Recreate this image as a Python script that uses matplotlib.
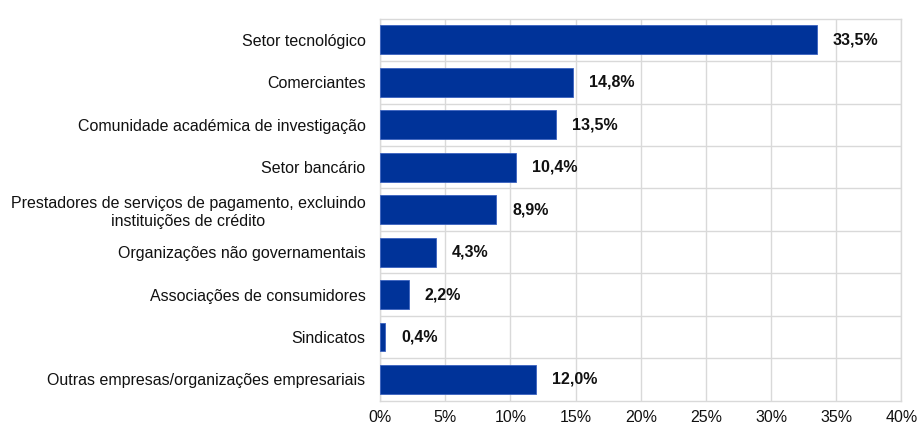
import matplotlib.pyplot as plt
from matplotlib.ticker import FuncFormatter, MultipleLocator

plt.rcParams['font.family'] = ['Liberation Sans', 'DejaVu Sans']

categories = [
    "Setor tecnológico",
    "Comerciantes",
    "Comunidade académica de investigação",
    "Setor bancário",
    "Prestadores de serviços de pagamento, excluindo\ninstituições de crédito",
    "Organizações não governamentais",
    "Associações de consumidores",
    "Sindicatos",
    "Outras empresas/organizações empresariais",
]
shares = [33.5, 14.8, 13.5, 10.4, 8.9, 4.3, 2.2, 0.4, 12.0]

fig = plt.figure(figsize=(9.18, 4.24), dpi=100)
ax = fig.add_axes([0.414, 0.055, 0.568, 0.901])

ypos = list(range(len(categories)))
ax.barh(ypos, shares, height=0.68, color="#003399", edgecolor="#3a62c0",
        linewidth=0.6, zorder=3)

for y, v in zip(ypos, shares):
    ax.annotate(f"{v:.1f}%".replace(".", ","), (v, y), xytext=(11.5, 0),
                textcoords="offset points", va="center", ha="left",
                fontsize=11.5, fontweight="bold", color="#111111")

ax.set_xlim(0, 40)
ax.set_ylim(len(categories) - 0.5, -0.5)
ax.xaxis.set_major_locator(MultipleLocator(5))
ax.xaxis.set_major_formatter(FuncFormatter(lambda x, _: f"{x:.0f}%"))

ax.set_yticks(ypos)
ax.set_yticklabels(categories, multialignment="center")
ax.set_yticks([y + 0.5 for y in ypos[:-1]], minor=True)

ax.grid(axis="x", which="major", color="#d9d9d9", linewidth=1, zorder=0)
ax.grid(axis="y", which="minor", color="#d9d9d9", linewidth=1, zorder=0)
ax.tick_params(axis="both", which="both", length=0, labelsize=11.5, colors="#111111")
ax.tick_params(axis="y", pad=10.5)
ax.tick_params(axis="x", pad=7)
for s in ax.spines.values():
    s.set_color("#d9d9d9")
    s.set_linewidth(1)

fig.savefig("out.png", dpi=100)
